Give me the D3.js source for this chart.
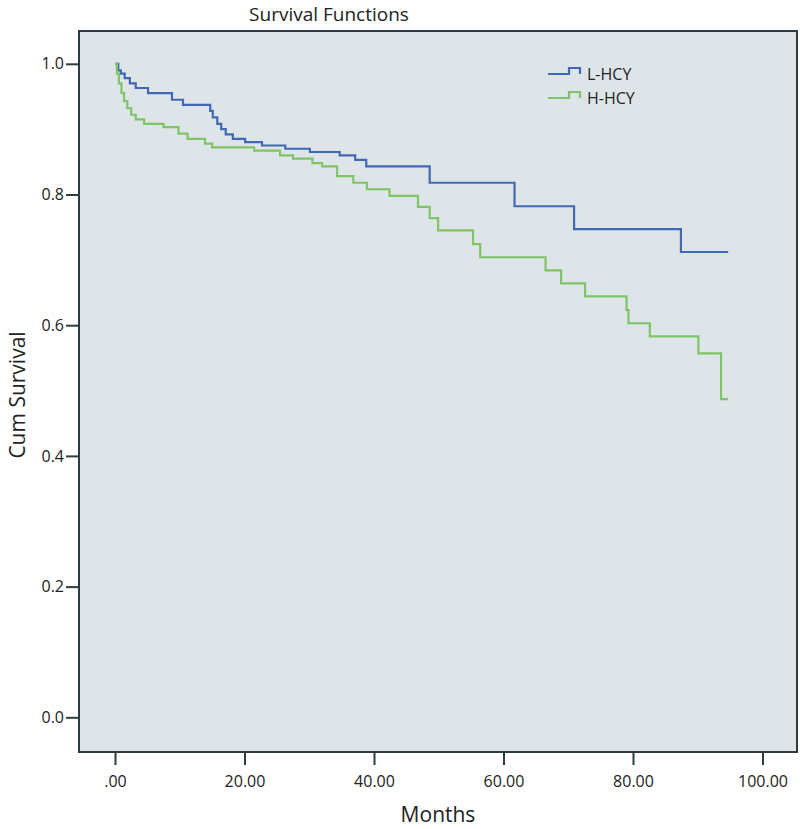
<!DOCTYPE html>
<html>
<head>
<meta charset="utf-8">
<script src="https://cdn.jsdelivr.net/npm/d3@7/dist/d3.min.js"></script>
<style>
  body { margin: 0; background: #fff; }
  text { font-family: "Open Sans", sans-serif; fill: #222; }
</style>
</head>
<body>
<svg id="chart" width="800" height="829"></svg>
<script>
// months at which the curve steps, and survival after each step
var lTimes = [0, 0.5, 0.9, 1.5, 2.3, 3.2, 5.1, 8.8, 10.5, 14.7, 15.1, 15.8, 16.4, 17.1, 18.2, 20.1, 22.7, 26.3, 30.1, 34.7, 37.1, 38.8, 48.6, 61.7, 70.9, 87.4, 94.7];
var lSurv  = [1.0, 0.99, 0.985, 0.978, 0.97, 0.963, 0.955, 0.945, 0.937, 0.928, 0.918, 0.908, 0.9, 0.892, 0.885, 0.88, 0.875, 0.87, 0.865, 0.86, 0.853, 0.843, 0.818, 0.782, 0.747, 0.712, 0.712];

var hTimes = [0, 0.3, 0.6, 1.0, 1.4, 1.9, 2.5, 3.2, 4.5, 7.5, 9.8, 11.2, 13.9, 15.0, 21.5, 25.5, 27.5, 30.5, 32.0, 34.3, 36.8, 38.9, 42.4, 46.8, 48.6, 49.9, 55.3, 56.4, 66.5, 68.9, 72.6, 79.0, 79.3, 82.6, 90.1, 93.6, 94.7];
var hSurv  = [1.0, 0.985, 0.97, 0.955, 0.943, 0.932, 0.922, 0.915, 0.908, 0.903, 0.893, 0.885, 0.878, 0.872, 0.867, 0.86, 0.855, 0.848, 0.843, 0.828, 0.818, 0.808, 0.798, 0.781, 0.764, 0.745, 0.724, 0.704, 0.684, 0.664, 0.644, 0.623, 0.603, 0.583, 0.557, 0.487, 0.487];

var groups = ["L-HCY", "H-HCY"];
var colors = ["#4068b4", "#7fc466"];
var xTicks = [0, 20, 40, 60, 80, 100];
var yTicks = [0, 0.2, 0.4, 0.6, 0.8, 1.0];

var svg = d3.select("#chart");

var frame = {left: 79, right: 797, top: 31, bottom: 752};

var x = d3.scaleLinear().domain([0, 100]).range([115, 762.5]);
var y = d3.scaleLinear().domain([0, 1]).range([717.3, 63.8]);

// plot background
svg.append("rect")
    .attr("x", frame.left)
    .attr("y", frame.top)
    .attr("width", frame.right - frame.left)
    .attr("height", frame.bottom - frame.top)
    .attr("fill", "#dde5e8")
    .attr("stroke", "#2e3b40")
    .attr("stroke-width", 2);

// axes
var xAxis = svg.append("g")
    .attr("transform", "translate(0," + frame.bottom + ")")
    .call(d3.axisBottom(x).tickValues(xTicks).tickSize(13).tickSizeOuter(0)
        .tickFormat(function(d) { return d === 0 ? ".00" : d3.format(".2f")(d); }));
xAxis.select(".domain").remove();
xAxis.selectAll("line").attr("stroke", "#2e3b40").attr("stroke-width", 2);
xAxis.selectAll("text").attr("font-size", 16).attr("dy", "1.2em").attr("fill", "#333");

var yAxis = svg.append("g")
    .attr("transform", "translate(" + frame.left + ",0)")
    .call(d3.axisLeft(y).tickValues(yTicks).tickSize(13).tickSizeOuter(0)
        .tickFormat(d3.format(".1f")));
yAxis.select(".domain").remove();
yAxis.selectAll("line").attr("stroke", "#2e3b40").attr("stroke-width", 2);
yAxis.selectAll("text").attr("font-size", 16).attr("x", -15).attr("fill", "#333");

// curves
var line = d3.line()
    .x(function(d) { return x(d[0]); })
    .y(function(d) { return y(d[1]); })
    .curve(d3.curveStepAfter);

var series = [d3.zip(lTimes, lSurv), d3.zip(hTimes, hSurv)];

svg.append("g").selectAll("path")
    .data(series)
    .enter()
    .append("path")
    .attr("d", line)
    .attr("fill", "none")
    .attr("stroke", function(d, i) { return colors[i]; })
    .attr("stroke-width", 2.2);

// legend
var legend = svg.append("g").selectAll("g")
    .data(groups)
    .enter()
    .append("g")
    .attr("transform", function(d, i) { return "translate(548," + (74 + i * 24) + ")"; });

legend.append("path")
    .attr("d", "M0,0H21V-6H32V0")
    .attr("fill", "none")
    .attr("stroke", function(d, i) { return colors[i]; })
    .attr("stroke-width", 2.2);

legend.append("text")
    .attr("x", 39)
    .attr("y", 6)
    .attr("font-size", 16)
    .text(function(d) { return d; });

// titles
svg.append("text")
    .attr("x", 329)
    .attr("y", 21)
    .attr("text-anchor", "middle")
    .attr("font-size", 19)
    .text("Survival Functions");

svg.append("text")
    .attr("x", 438)
    .attr("y", 822)
    .attr("text-anchor", "middle")
    .attr("font-size", 21)
    .text("Months");

svg.append("text")
    .attr("transform", "translate(25,395) rotate(-90)")
    .attr("text-anchor", "middle")
    .attr("font-size", 21)
    .text("Cum Survival");
</script>
</body>
</html>
